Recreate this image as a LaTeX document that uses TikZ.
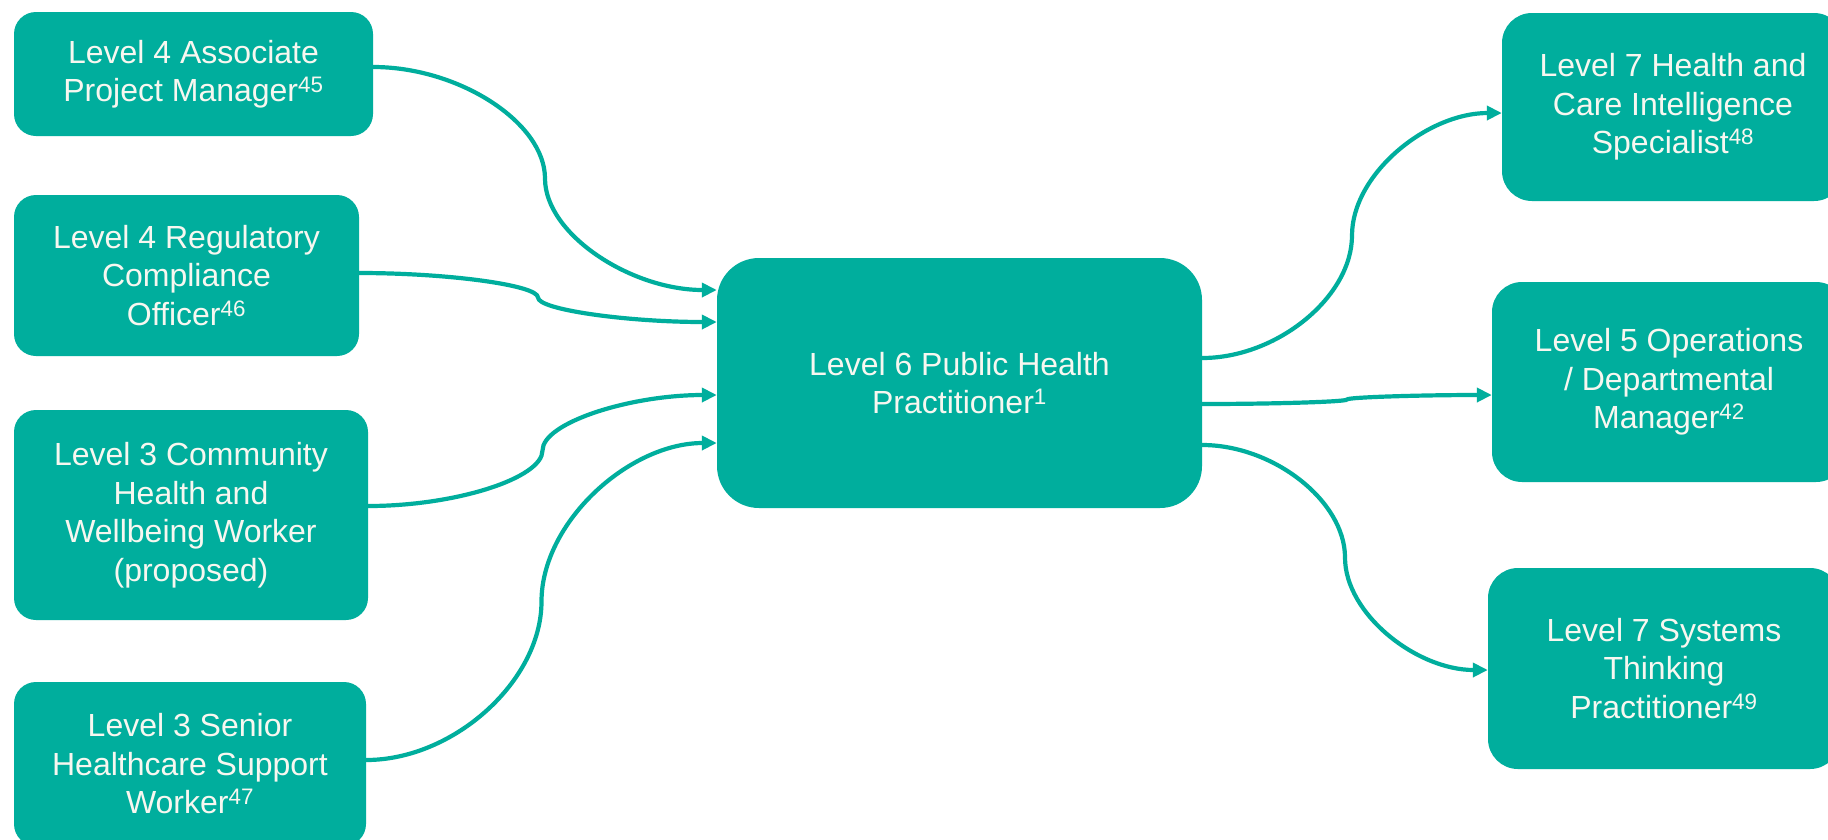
\documentclass[tikz,border=0pt]{standalone}
\usepackage{fontspec}
\setmainfont{Liberation Sans}
\usetikzlibrary{arrows.meta,calc}
\definecolor{tealfill}{HTML}{00AE9D}
\definecolor{labeltext}{HTML}{F7F7F0}
\begin{document}
\begin{tikzpicture}[x=1pt,y=-1pt,
  role/.style={fill=tealfill, draw=none, text=labeltext, align=center, inner sep=0pt,
    font=\fontsize{32}{38.5}\selectfont},
  leftrole/.style={role, rounded corners=22pt},
  rightrole/.style={role, rounded corners=30pt},
  hubrole/.style={role, rounded corners=42pt},
  % two-bend curved connector: horizontal, vertical at mid-span, horizontal
  curvecon/.style={to path={let \p1=(\tikztostart), \p2=(\tikztotarget) in
    .. controls ({\x1+0.25*(\x2-\x1)},\y1) and ({0.5*(\x1+\x2)},{\y1+0.25*(\y2-\y1)})
    .. ({0.5*(\x1+\x2)},{0.5*(\y1+\y2)})
    .. controls ({0.5*(\x1+\x2)},{\y1+0.75*(\y2-\y1)}) and ({\x1+0.75*(\x2-\x1)},\y2)
    .. (\tikztotarget)}},
  link/.style={draw=tealfill, line width=4.2pt, -{Triangle[length=15pt,width=14pt]}, curvecon}]
\useasboundingbox (0,0) rectangle (1828,839);
\clip (0,0) rectangle (1828,839);
\fill[white] (0,0) rectangle (1828,839);

% feeder roles
\node[leftrole, minimum width=359pt, minimum height=124pt] (a) at (193.5,74)
  {Level 4 Associate\\Project Manager\textsuperscript{45}};
\node[leftrole, minimum width=345pt, minimum height=161pt] (b) at (186.5,275.5)
  {Level 4 Regulatory\\Compliance\\Officer\textsuperscript{46}};
\node[leftrole, minimum width=354pt, minimum height=210pt] (c) at (191,515)
  {Level 3 Community\\Health and\\Wellbeing Worker\\(proposed)};
\node[leftrole, minimum width=352pt, minimum height=164pt] (d) at (190,764)
  {Level 3 Senior\\Healthcare Support\\Worker\textsuperscript{47}};

% central role
\node[hubrole, minimum width=485pt, minimum height=250pt] (hub) at (959.5,383)
  {Level 6 Public Health\\Practitioner\textsuperscript{1}};

% onward roles
\node[rightrole, minimum width=342pt, minimum height=188pt] (r1) at (1673,107)
  {Level 7 Health and\\Care Intelligence\\Specialist\textsuperscript{48}};
\node[rightrole, minimum width=354pt, minimum height=200pt] (r2) at (1669,382)
  {Level 5 Operations\\/ Departmental\\Manager\textsuperscript{42}};
\node[rightrole, minimum width=352pt, minimum height=201pt] (r3) at (1664,668.5)
  {Level 7 Systems\\Thinking\\Practitioner\textsuperscript{49}};

% connectors into the central role
\draw[link] ([yshift=7pt]a.east) to ([yshift=93pt]hub.west);
\draw[link] ([yshift=2.5pt]b.east) to ([yshift=61pt]hub.west);
\draw[link] ([yshift=9pt]c.east) to ([yshift=-12pt]hub.west);
\draw[link] ([yshift=4pt]d.east) to ([yshift=-60pt]hub.west);

% connectors out of the central role
\draw[link] ([yshift=25pt]hub.east) to ([yshift=-6pt]r1.west);
\draw[link] ([yshift=-21pt]hub.east) to ([yshift=-13pt]r2.west);
\draw[link] ([yshift=-62pt]hub.east) to ([yshift=-1.5pt]r3.west);
\end{tikzpicture}
\end{document}
